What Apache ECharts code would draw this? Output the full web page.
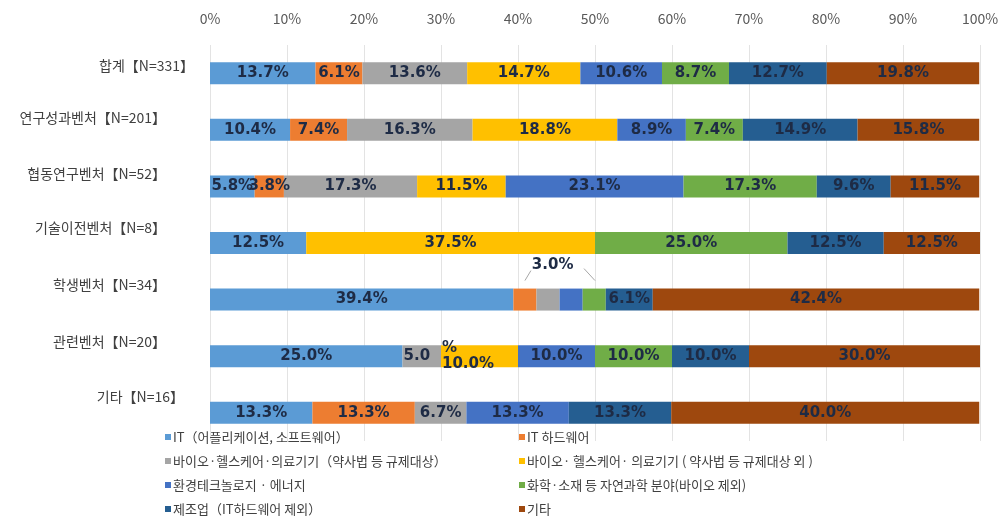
<!DOCTYPE html>
<html>
<head>
<meta charset="utf-8">
<script src="https://cdn.jsdelivr.net/npm/echarts@6/dist/echarts.min.js"></script>
<style>
  html, body { margin: 0; padding: 0; background: #fff; }
  #chart { width: 1003px; height: 520px; }
</style>
</head>
<body>
<div id="chart"></div>
<script>
// 구분 (행)
const categories = ['합계【N=331】', '연구성과벤처【N=201】', '협동연구벤처【N=52】', '기술이전벤처【N=8】', '학생벤처【N=34】', '관련벤처【N=20】', '기타【N=16】']
// 업종 (계열)
const seriesNames = [
  'IT（어플리케이션, 소프트웨어）',
  'IT 하드웨어',
  '바이오·헬스케어·의료기기（약사법 등 규제대상）',
  '바이오· 헬스케어· 의료기기 ( 약사법 등 규제대상 외 )',
  '환경테크놀로지 · 에너지',
  '화학·소재 등 자연과학 분야(바이오 제외)',
  '제조업（IT하드웨어 제외）',
  '기타'
]
const itSoftware = [13.7, 10.4, 5.8, 12.5, 39.4, 25.0, 13.3]
const itHardware = [6.1, 7.4, 3.8, 0, 3.0, 0, 13.3]
const bioRegulated = [13.6, 16.3, 17.3, 0, 3.0, 5.0, 6.7]
const bioOther = [14.7, 18.8, 11.5, 37.5, 0, 10.0, 0]
const envEnergy = [10.6, 8.9, 23.1, 0, 3.0, 10.0, 13.3]
const chemistry = [8.7, 7.4, 17.3, 25.0, 3.0, 10.0, 0]
const manufacturing = [12.7, 14.9, 9.6, 12.5, 6.1, 10.0, 13.3]
const etc = [19.8, 15.8, 11.5, 12.5, 42.4, 30.0, 40.0]
const tickLabels = ['0%', '10%', '20%', '30%', '40%', '50%', '60%', '70%', '80%', '90%', '100%']
const colors = ['#5B9BD5', '#ED7D31', '#A5A5A5', '#FFC000', '#4472C4', '#70AD47', '#255E91', '#9E480E']

const values = [itSoftware, itHardware, bioRegulated, bioOther, envEnergy, chemistry, manufacturing, etc]

let chart = echarts.init(document.getElementById('chart'))

// 막대 레이블 (작은 값은 숨김)
function labelText (p) {
  if (p.value < 3.5) return ''
  // 관련벤처 행은 원본처럼 줄바꿈된 레이블
  if (p.dataIndex === 5 && p.seriesIndex === 2) return '5.0'
  if (p.dataIndex === 5 && p.seriesIndex === 3) return '%\n10.0%'
  return p.value.toFixed(1) + '%'
}

// 행 레이블 위치 보정 (원본 엑셀 배치)
const rowLift = [8, 12, 13, 15, 15, 14, 16]
const rowRightGap = [0, 28, 28, 28, 28, 28, 10]
let rich = {}
rowLift.forEach((lift, i) => {
  rich['r' + i] = {
    fontSize: 14,
    color: '#404040',
    fontFamily: 'Noto Sans CJK KR',
    padding: [0, rowRightGap[i], lift * 2, 0]
  }
})

let series = values.map((arr, i) => ({
  name: seriesNames[i],
  type: 'bar',
  stack: 'total',
  barWidth: 22,
  itemStyle: { color: colors[i] },
  label: {
    show: true,
    position: 'inside',
    formatter: labelText,
    color: '#1e2b45',
    fontFamily: 'DejaVu Sans',
    fontWeight: 'bold',
    fontSize: 15
  },
  data: arr.map((v, j) => {
    if (j === 5 && (i === 2 || i === 3)) {
      return { value: v, label: { position: 'insideLeft', distance: 1, align: 'left', lineHeight: 16 } }
    }
    return v
  })
}))

let legendCommon = {
  orient: 'vertical',
  top: 425,
  height: 95,
  itemWidth: 6,
  itemHeight: 6,
  itemGap: 10,
  icon: 'rect',
  textStyle: { color: '#404040', fontSize: 13, lineHeight: 14, fontFamily: 'Noto Sans CJK KR', padding: [0, 0, 0, -3] }
}

chart.setOption({
  animation: false,
  textStyle: { fontFamily: 'Noto Sans CJK KR' },
  grid: { left: 210, right: 23, top: 45, height: 396 },
  xAxis: {
    type: 'value',
    position: 'top',
    min: 0,
    max: 100,
    interval: 10,
    axisLine: { show: false },
    axisTick: { show: false },
    axisLabel: {
      margin: 19,
      color: '#595959',
      fontSize: 14,
      fontFamily: 'Noto Sans CJK KR',
      formatter: (v) => tickLabels[v / 10]
    },
    splitLine: { lineStyle: { color: '#e3e3e3' } }
  },
  yAxis: {
    type: 'category',
    inverse: true,
    data: categories,
    axisLine: { show: false },
    axisTick: { show: false },
    axisLabel: {
      margin: 16,
      formatter: (value, index) => '{r' + index + '|' + value + '}',
      rich: rich
    }
  },
  legend: [
    Object.assign({ left: 160, data: [seriesNames[0], seriesNames[2], seriesNames[4], seriesNames[6]] }, legendCommon),
    Object.assign({ left: 514, data: [seriesNames[1], seriesNames[3], seriesNames[5], seriesNames[7]] }, legendCommon)
  ],
  series: series
})

// 학생벤처 3.0% 외부 레이블과 지시선
let yc = chart.convertToPixel({ yAxisIndex: 0 }, categories[4])
let barTop = yc - 11
let xL = chart.convertToPixel({ xAxisIndex: 0 }, itSoftware[4] + itHardware[4] / 2)
let xR = chart.convertToPixel({ xAxisIndex: 0 }, 50)
let xMid = chart.convertToPixel({ xAxisIndex: 0 }, 44.5)
chart.setOption({
  graphic: [
    { type: 'line', shape: { x1: xL, y1: barTop - 8, x2: xL + 6, y2: barTop - 18 }, style: { stroke: '#a6a6a6', lineWidth: 1 } },
    { type: 'line', shape: { x1: xR - 11, y1: barTop - 20, x2: xR, y2: barTop - 8 }, style: { stroke: '#a6a6a6', lineWidth: 1 } },
    {
      type: 'text',
      x: xMid,
      y: barTop - 23,
      style: {
        text: '3.0%',
        align: 'center',
        verticalAlign: 'middle',
        fill: '#1e2b45',
        font: 'bold 15px "DejaVu Sans"'
      }
    }
  ]
})
</script>
</body>
</html>
